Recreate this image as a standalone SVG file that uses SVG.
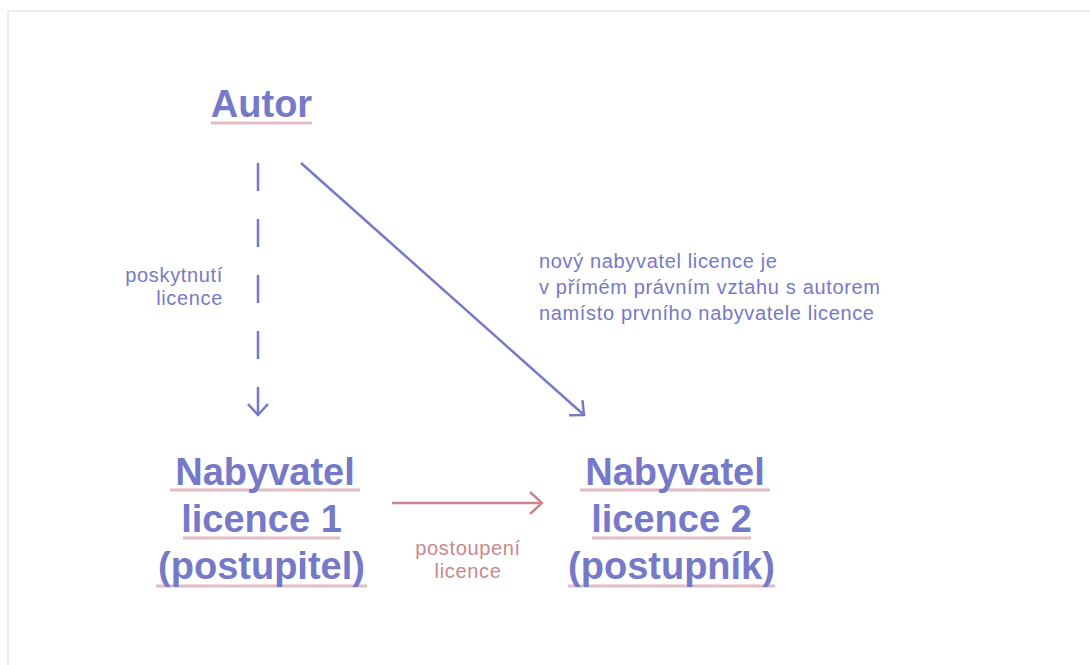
<svg xmlns="http://www.w3.org/2000/svg" width="1090" height="665" viewBox="0 0 1090 665">
<style>
.node{font-family:"Liberation Sans",Arial,sans-serif;font-weight:bold;font-size:38px;fill:#7579c8;text-anchor:middle}
.ul{stroke:#e3bcc4;stroke-width:3}
.lbl{font-family:"Liberation Sans",Arial,sans-serif;font-size:20px;letter-spacing:0.65px}
.blue{fill:#7579c8}
.pink{fill:#c9878d}
.cb{stroke:#7579c8;stroke-width:2.5;fill:none}
.cp{stroke:#c9878d;stroke-width:2.5;fill:none}
</style>
<defs>
<marker id="ab" markerUnits="userSpaceOnUse" viewBox="-14 -13 16 26" markerWidth="16" markerHeight="26" refX="0" refY="0" orient="auto">
<path d="M-11,-10 L0,0 L-11,10" fill="none" stroke="#7579c8" stroke-width="2.5"/>
</marker>
<marker id="ap" markerUnits="userSpaceOnUse" viewBox="-15 -13 17 26" markerWidth="17" markerHeight="26" refX="0" refY="0" orient="auto">
<path d="M-12,-11 L0,0 L-12,11" fill="none" stroke="#c9878d" stroke-width="2.5"/>
</marker>
</defs>
<rect x="0" y="0" width="1090" height="665" fill="#ffffff"/>
<rect x="8" y="11" width="1100" height="700" fill="none" stroke="#ecebf8" stroke-width="2"/>
<g id="connectors">
<line class="cb" x1="258" y1="163" x2="258" y2="415" stroke-dasharray="28 28" marker-end="url(#ab)"/>
<line class="cb" x1="301" y1="163" x2="584" y2="415" marker-end="url(#ab)"/>
<line class="cp" x1="392" y1="503" x2="542" y2="503" marker-end="url(#ap)"/>
<text class="lbl blue" text-anchor="end" x="223" y="282">poskytnutí</text>
<text class="lbl blue" text-anchor="end" x="223" y="305">licence</text>
<text class="lbl blue" x="539" y="268">nový nabyvatel licence je</text>
<text class="lbl blue" x="539" y="294">v přímém právním vztahu s autorem</text>
<text class="lbl blue" x="539" y="320">namísto prvního nabyvatele licence</text>
<text class="lbl pink" text-anchor="middle" x="468" y="555">postoupení</text>
<text class="lbl pink" text-anchor="middle" x="468" y="578">licence</text>
</g>
<g id="autor">
<line class="ul" x1="211" y1="123" x2="312" y2="123"/>
<text class="node" x="261.5" y="117">Autor</text>
</g>
<g id="nabyvatel1">
<line class="ul" x1="170" y1="490" x2="360" y2="490"/>
<line class="ul" x1="183" y1="538" x2="340" y2="538"/>
<line class="ul" x1="156" y1="586" x2="367" y2="586"/>
<text class="node" x="265" y="485">Nabyvatel </text>
<text class="node" x="261.5" y="532">licence 1</text>
<text class="node" x="261.5" y="579">(postupitel)</text>
</g>
<g id="nabyvatel2">
<line class="ul" x1="580" y1="490" x2="770" y2="490"/>
<line class="ul" x1="592" y1="538" x2="751" y2="538"/>
<line class="ul" x1="568" y1="586" x2="775" y2="586"/>
<text class="node" x="675" y="485">Nabyvatel </text>
<text class="node" x="671.5" y="532">licence 2</text>
<text class="node" x="671.5" y="579">(postupník)</text>
</g>
</svg>
